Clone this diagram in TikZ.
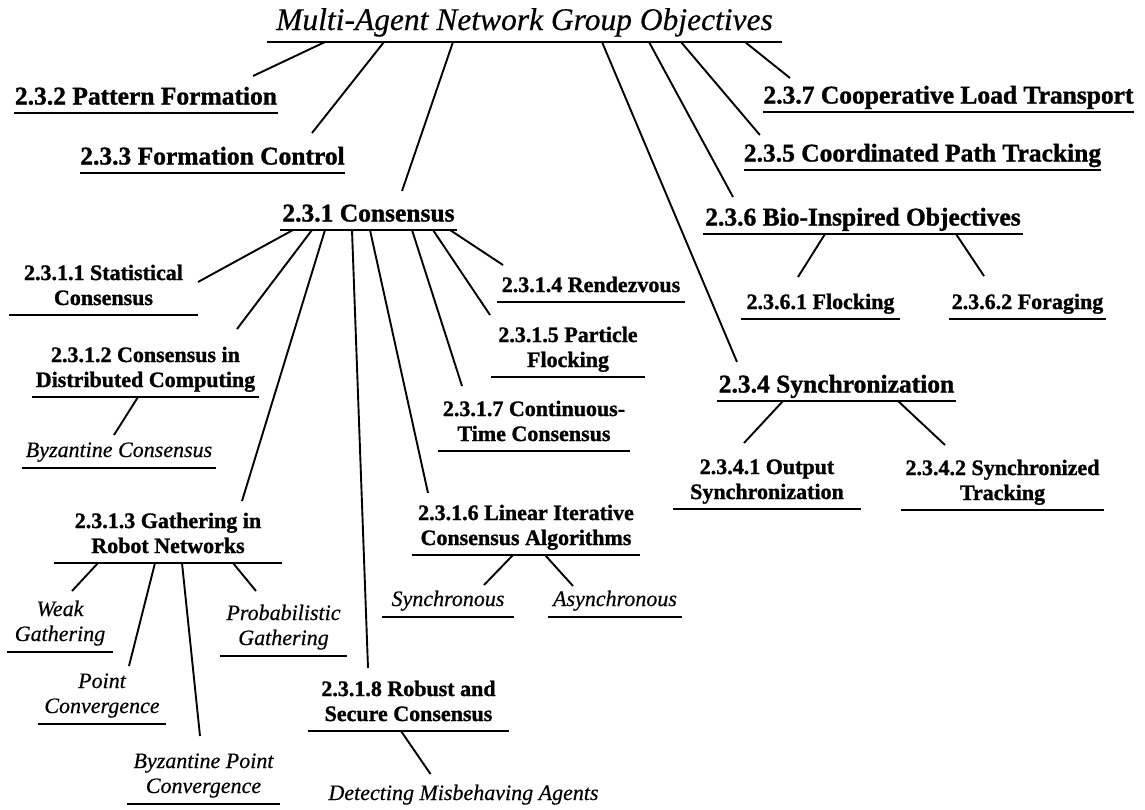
\documentclass[tikz,border=0pt]{standalone}
\usepackage{fontspec}
\setmainfont{Liberation Serif}[BoldFeatures={FakeBold=1.2},ItalicFeatures={FakeBold=0.4}]
\usetikzlibrary{calc}
% invisible rule that fixes the gap between the last baseline and the underline
\newcommand\ulgap[1]{\rule[-#1pt]{0pt}{#1pt}}
% connector: from a point on the parent's underline to a point above the child
\newcommand\lnk[5]{\draw[conn] ($(#1.south west)+(#2,0)$) -- ($(#3.south west)+(#4,-#5)$);}
\begin{document}
\begin{tikzpicture}[x=1pt,y=-1pt,
  uline/.style={draw, line width=2.3pt},
  conn/.style={draw, line width=1.9pt},
  tnode/.style={anchor=south, inner sep=0pt, outer sep=0pt, align=center, minimum width=#1,
     append after command={(\tikzlastnode.south west) edge[uline] (\tikzlastnode.south east)}},
  titlebox/.style={tnode=#1, font=\fontsize{31.5}{36}\selectfont\itshape, execute at end node=\ulgap{12}},
  headA/.style={tnode=#1, font=\fontsize{25.5}{28}\selectfont\bfseries, execute at end node=\ulgap{8.5}},
  headB/.style={tnode=#1, font=\fontsize{22}{25}\selectfont\bfseries, execute at end node=\ulgap{10}},
  leaf/.style={tnode=#1, font=\fontsize{22}{25}\selectfont\itshape, execute at end node=\ulgap{11}},
  leafplain/.style={anchor=south, inner sep=0pt, outer sep=0pt, align=center,
     font=\fontsize{22}{25}\selectfont\itshape, execute at end node=\ulgap{11}},
]
\useasboundingbox (0,0) rectangle (1145,809);
\fill[white] (0,0) rectangle (1145,809);

% root
\node[titlebox=515] (top) at (524.5,42) {Multi-Agent Network Group Objectives};

% group objectives
\node[headA=264] (pf)  at (146,113)   {2.3.2 Pattern Formation};
\node[headA=265] (fc)  at (212.5,173) {2.3.3 Formation Control};
\node[headA=177] (co)  at (368.5,230) {2.3.1 Consensus};
\node[headA=371] (clt) at (948.5,112) {2.3.7 Cooperative Load Transport};
\node[headA=357] (cpt) at (922.5,170) {2.3.5 Coordinated Path Tracking};
\node[headA=320] (bio) at (863,234)   {2.3.6 Bio-Inspired Objectives};
\node[headA=239] (syn) at (836.5,401) {2.3.4 Synchronization};

% consensus branch
\node[headB=189] (stat) at (103.5,315) {2.3.1.1 Statistical\\Consensus};
\node[headB=227] (dist) at (145.5,397) {2.3.1.2 Consensus in\\Distributed Computing};
\node[headB=228] (gath) at (168,563)   {2.3.1.3 Gathering in\\Robot Networks};
\node[headB=188] (ren)  at (591,302)   {2.3.1.4 Rendezvous};
\node[headB=154] (part) at (568,377)   {2.3.1.5 Particle\\Flocking};
\node[headB=192] (cont) at (534,451)   {2.3.1.7 Continuous-\\Time Consensus};
\node[headB=228] (lin)  at (526,555)   {2.3.1.6 Linear Iterative\\Consensus Algorithms};
\node[headB=201] (rob)  at (408.5,731) {2.3.1.8 Robust and\\Secure Consensus};

% bio-inspired and synchronization branches
\node[headB=159] (flk)  at (820.5,319) {2.3.6.1 Flocking};
\node[headB=157] (forg) at (1027.5,319) {2.3.6.2 Foraging};
\node[headB=188] (out)  at (767,509)   {2.3.4.1 Output\\Synchronization};
\node[headB=203] (trk)  at (1002.5,510) {2.3.4.2 Synchronized\\Tracking};

% leaves
\node[leaf=194] (byz)   at (119,468)   {Byzantine Consensus};
\node[leaf=132] (syc)   at (448,617)   {Synchronous};
\node[leaf=134] (asy)   at (615,617)   {Asynchronous};
\node[leaf=106] (weak)  at (60,652)    {Weak\\Gathering};
\node[leaf=127] (prob)  at (283.5,656) {Probabilistic\\Gathering};
\node[leaf=128] (point) at (102,724)   {Point\\Convergence};
\node[leaf=153] (bpc)   at (203.5,804) {Byzantine Point\\Convergence};
\node[leafplain] (det)  at (463.5,811) {Detecting Misbehaving Agents};

% root links
\lnk{top}{58}{pf}{239}{37}
\lnk{top}{117}{fc}{232}{40}
\lnk{top}{186}{co}{122}{39}
\lnk{top}{335}{syn}{20}{39}
\lnk{top}{382}{bio}{30}{37}
\lnk{top}{414}{cpt}{16}{35}
\lnk{top}{478}{clt}{27}{34}

% consensus links
\lnk{co}{13}{stat}{189}{33}
\lnk{co}{32}{dist}{205}{68}
\lnk{co}{45}{gath}{188}{62}
\lnk{co}{72}{rob}{60}{63}
\lnk{co}{90}{lin}{16}{62}
\lnk{co}{132}{cont}{24}{65}
\lnk{co}{153}{part}{-1}{62}
\lnk{co}{170}{ren}{6}{37}

\lnk{dist}{106}{byz}{92}{33}
\lnk{gath}{44}{weak}{65}{61}
\lnk{gath}{101}{point}{91}{58}
\lnk{gath}{128}{bpc}{73}{68}
\lnk{gath}{179}{prob}{36}{65}
\lnk{rob}{93}{det}{102}{37}
\lnk{lin}{101}{syc}{102}{32}
\lnk{lin}{133}{asy}{25}{31}

% bio-inspired and synchronization links
\lnk{bio}{122}{flk}{57}{42}
\lnk{bio}{253}{forg}{35}{43}
\lnk{syn}{66}{out}{71}{66}
\lnk{syn}{181}{trk}{44}{65}
\end{tikzpicture}
\end{document}
